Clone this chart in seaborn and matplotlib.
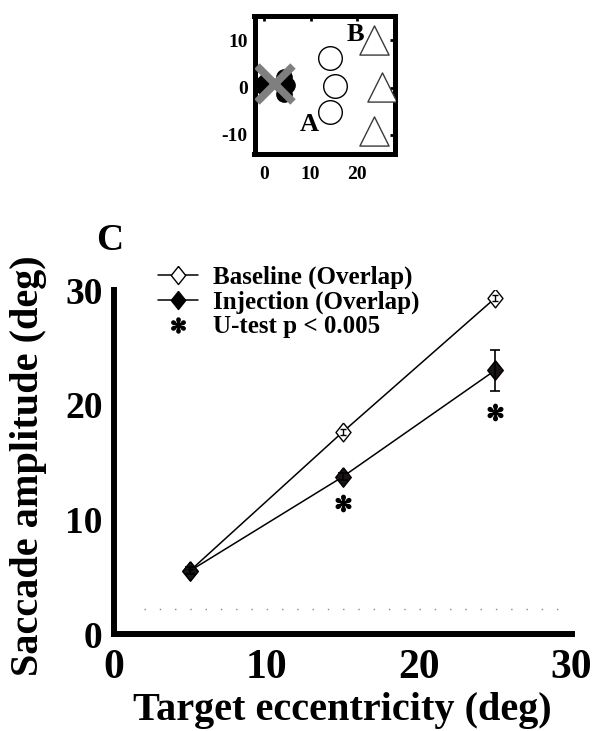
import matplotlib
matplotlib.use('Agg')
import matplotlib.pyplot as plt
import seaborn as sns
import pandas as pd
from matplotlib.lines import Line2D
from matplotlib.textpath import TextPath
from matplotlib.font_manager import FontProperties
from matplotlib.path import Path

# ---------------- data (main panel C) ----------------
ecc = [5, 15, 25]
baseline_amp = [5.5, 17.6, 29.3]
baseline_err = [0.2, 0.25, 0.25]
injection_amp = [5.5, 13.7, 23.0]
injection_err = [0.3, 0.3, 1.8]
star_x = [15, 25]
star_y = [11.4, 19.4]
chance_level = 2.2
chance_x = [2.0, 30.0]
x_ticks = [0, 10, 20, 30]
y_ticks = [0, 10, 20, 30]
legend_labels = ['Baseline (Overlap)', 'Injection (Overlap)', 'U-test p < 0.005']

# ---------------- data (inset target layout) ----------------
circle_x = [14.1, 15.2, 14.1]
circle_y = [6.2, 0.4, -5.2]
tri_x = [23.6, 25.3, 23.6]
tri_y = [10.0, 0.2, -9.2]
blob_x = [4.3, 4.9, 4.3, 3.8]
blob_y = [2.3, 0.6, -1.3, 0.6]
fix_x = [-0.3]
fix_y = [0.5]
cross_x = [2.3]
cross_y = [0.8]
inset_xticks = [0, 10, 20]
inset_yticks = [-10, 0, 10]

sns.set_theme(style='white')
plt.rcParams['font.family'] = ['Liberation Serif', 'DejaVu Serif']
plt.rcParams['font.weight'] = 'bold'
plt.rcParams['axes.unicode_minus'] = False

fig = plt.figure(figsize=(5.95, 7.31), dpi=100)
W, H = 595, 731

def fax(l, t, r, b):
    return [l / W, 1 - b / H, (r - l) / W, (b - t) / H]

diamond = [(0, 1), (0.8, 0), (0, -1), (-0.8, 0), (0, 1)]

tp = TextPath((0, 0), '\u273b', size=1, prop=FontProperties(family='DejaVu Sans'))
ext = tp.get_extents()
cx, cy = (ext.x0 + ext.x1) / 2, (ext.y0 + ext.y1) / 2
star_marker = Path(tp.vertices - [cx, cy], tp.codes)

# ---------------- main axes ----------------
ax = fig.add_axes(fax(113.5, 290, 571.5, 634))
df_b = pd.DataFrame({'ecc': ecc, 'amp': baseline_amp})
df_i = pd.DataFrame({'ecc': ecc, 'amp': injection_amp})

ax.plot(chance_x, [chance_level, chance_level], color='#888888', lw=1.0,
        linestyle=(0, (1, 10)), zorder=1)

sns.lineplot(data=df_b, x='ecc', y='amp', ax=ax, color='black', lw=1.1,
             marker=diamond, markersize=13.5, markerfacecolor='white',
             markeredgecolor='black', markeredgewidth=1.0, zorder=3)
sns.lineplot(data=df_i, x='ecc', y='amp', ax=ax, color='black', lw=1.1,
             marker=diamond, markersize=14, markerfacecolor='#1a1414',
             markeredgecolor='black', markeredgewidth=1.0, zorder=4)
ax.errorbar(ecc, baseline_amp, yerr=baseline_err, fmt='none', ecolor='black',
            elinewidth=1.0, capsize=2.2, capthick=1.0, zorder=5)
ax.errorbar(ecc, injection_amp, yerr=injection_err, fmt='none', ecolor='black',
            elinewidth=1.2, capsize=3.5, capthick=1.2, zorder=5)
ax.plot(star_x, star_y, linestyle='none', marker=star_marker, markersize=13,
        color='black', zorder=5)

ax.set_xlim(0, 30)
ax.set_ylim(0, 30)
ax.set_xticks(x_ticks)
ax.set_yticks(y_ticks)
for s in ['top', 'right']:
    ax.spines[s].set_visible(False)
for s in ['left', 'bottom']:
    ax.spines[s].set_linewidth(4.3)
    ax.spines[s].set_color('black')
    ax.spines[s].set_capstyle('projecting')
ax.tick_params(axis='both', direction='in', length=7.5, width=3, color='black',
               labelcolor='black')
ax.tick_params(axis='x', labelsize=30, pad=11)
ax.tick_params(axis='y', labelsize=27, pad=8)
for lab in ax.get_xticklabels() + ax.get_yticklabels():
    lab.set_fontweight('bold')
ax.set_xlabel('Target eccentricity (deg)', fontsize=29, fontweight='bold', color='black')
ax.set_ylabel('Saccade amplitude (deg)', fontsize=29, fontweight='bold', color='black')
ax.xaxis.set_label_coords(0.5, -0.17)
ax.yaxis.set_label_coords(-0.145, 0.49)

handles = [
    Line2D([], [], color='black', lw=1.1, marker=diamond, markersize=13,
           markerfacecolor='white', markeredgecolor='black'),
    Line2D([], [], color='black', lw=1.1, marker=diamond, markersize=13,
           markerfacecolor='black', markeredgecolor='black'),
    Line2D([], [], color='black', lw=0, marker=star_marker, markersize=12),
]
leg = ax.legend(handles, legend_labels, loc='upper left', frameon=False,
                bbox_to_anchor=(158 / W, 1 - 266 / H), bbox_transform=fig.transFigure,
                borderpad=0, borderaxespad=0, handlelength=1.6, handletextpad=0.6,
                labelspacing=0.05, prop={'size': 18, 'weight': 'bold', 'family': 'Liberation Serif'})
for t in leg.get_texts():
    t.set_color('black')

fig.text(110 / W, 1 - 240 / H, 'C', fontsize=27, fontweight='bold', ha='center',
         va='center', color='black')

# ---------------- inset ----------------
ai = fig.add_axes(fax(254.5, 15.5, 394.5, 153.5))
ai.scatter(circle_x, circle_y, s=17 ** 2, marker='o', facecolors='white',
           edgecolors='black', linewidths=1.0, zorder=3)
ai.scatter(tri_x, tri_y, s=21 ** 2, marker='^', facecolors='white',
           edgecolors='#3a3a3a', linewidths=1.0, zorder=3)
ai.scatter(fix_x, fix_y, s=11 ** 2, marker='D', color='black', zorder=3)
ai.scatter(blob_x, blob_y, s=11 ** 2, marker='o', color='black', zorder=3)
ai.plot(cross_x, cross_y, linestyle='none', marker='x', markersize=26,
        markeredgewidth=5.5, color='#7f7f7f', zorder=4)
ai.text(9.7, -7.8, 'A', fontsize=19, fontweight='bold', ha='center', va='center', color='black')
ai.text(19.6, 11.3, 'B', fontsize=19, fontweight='bold', ha='center', va='center', color='black')
ai.set_xlim(-2, 28)
ai.set_ylim(-14, 15.3)
ai.set_xticks(inset_xticks)
ai.set_yticks(inset_yticks)
for s in ai.spines.values():
    s.set_linewidth(3.6)
    s.set_color('black')
ai.tick_params(axis='both', direction='in', length=3.5, width=2, color='black',
               top=True, right=True, labelsize=14, labelcolor='black')
ai.tick_params(axis='x', pad=9)
ai.tick_params(axis='y', pad=5)
for lab in ai.get_xticklabels() + ai.get_yticklabels():
    lab.set_fontweight('bold')

fig.savefig('out.png', dpi=100, facecolor='white')
